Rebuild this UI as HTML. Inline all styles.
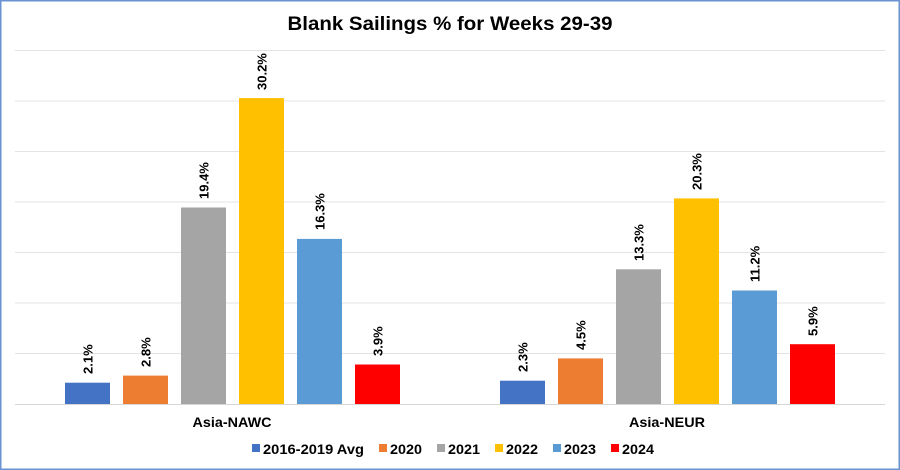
<!DOCTYPE html>
<html><head><meta charset="utf-8"><style>
html,body{margin:0;padding:0;background:#fff;}
svg{display:block;font-family:"Liberation Sans",Arial,sans-serif;}
</style></head><body>
<svg width="900" height="470" viewBox="0 0 900 470" xmlns="http://www.w3.org/2000/svg">
<rect x="0.75" y="0.75" width="898.5" height="468.5" fill="#fff" stroke="#6a93d4" stroke-width="1.5"/>
<text x="450" y="30" text-anchor="middle" font-size="19" font-weight="bold" textLength="325" lengthAdjust="spacingAndGlyphs">Blank Sailings % for Weeks 29-39</text>
<g stroke="#e3e3e3" stroke-width="1">
<line x1="15" x2="885" y1="50.5" y2="50.5"/>
<line x1="15" x2="885" y1="101" y2="101"/>
<line x1="15" x2="885" y1="151.5" y2="151.5"/>
<line x1="15" x2="885" y1="202" y2="202"/>
<line x1="15" x2="885" y1="252.5" y2="252.5"/>
<line x1="15" x2="885" y1="303" y2="303"/>
<line x1="15" x2="885" y1="353.5" y2="353.5"/>
</g>
<line x1="15" x2="885" y1="404.5" y2="404.5" stroke="#d6d6d6" stroke-width="1"/>
<g>
<rect x="65" y="382.7" width="45" height="21.3" fill="#4472c4"/>
<rect x="123" y="375.6" width="45" height="28.4" fill="#ed7d31"/>
<rect x="181" y="207.5" width="45" height="196.5" fill="#a5a5a5"/>
<rect x="239" y="98.1" width="45" height="305.9" fill="#ffc000"/>
<rect x="297" y="238.9" width="45" height="165.1" fill="#5b9bd5"/>
<rect x="355" y="364.5" width="45" height="39.5" fill="#ff0000"/>
<rect x="500" y="380.7" width="45" height="23.3" fill="#4472c4"/>
<rect x="558" y="358.4" width="45" height="45.6" fill="#ed7d31"/>
<rect x="616" y="269.3" width="45" height="134.7" fill="#a5a5a5"/>
<rect x="674" y="198.4" width="45" height="205.6" fill="#ffc000"/>
<rect x="732" y="290.5" width="45" height="113.5" fill="#5b9bd5"/>
<rect x="790" y="344.2" width="45" height="59.8" fill="#ff0000"/>
</g>
<g font-size="13" font-weight="bold" fill="#000">
<text transform="translate(92.5,374) rotate(-90)">2.1%</text>
<text transform="translate(150.5,367) rotate(-90)">2.8%</text>
<text transform="translate(208.5,199) rotate(-90)">19.4%</text>
<text transform="translate(266.5,90) rotate(-90)">30.2%</text>
<text transform="translate(324.5,230) rotate(-90)">16.3%</text>
<text transform="translate(382.5,356) rotate(-90)">3.9%</text>
<text transform="translate(527.5,372) rotate(-90)">2.3%</text>
<text transform="translate(585.5,350) rotate(-90)">4.5%</text>
<text transform="translate(643.5,261) rotate(-90)">13.3%</text>
<text transform="translate(701.5,190) rotate(-90)">20.3%</text>
<text transform="translate(759.5,282) rotate(-90)">11.2%</text>
<text transform="translate(817.5,336) rotate(-90)">5.9%</text>
</g>
<g font-size="14" font-weight="bold" text-anchor="middle">
<text x="232" y="427" textLength="79" lengthAdjust="spacingAndGlyphs">Asia-NAWC</text>
<text x="667" y="427" textLength="76" lengthAdjust="spacingAndGlyphs">Asia-NEUR</text>
</g>
<g font-size="14" font-weight="bold">
<rect x="252" y="444" width="8" height="8" fill="#4472c4"/><text x="263" y="454" textLength="101" lengthAdjust="spacingAndGlyphs">2016-2019 Avg</text>
<rect x="379" y="444" width="8" height="8" fill="#ed7d31"/><text x="390" y="454" textLength="32" lengthAdjust="spacingAndGlyphs">2020</text>
<rect x="437" y="444" width="8" height="8" fill="#a5a5a5"/><text x="448" y="454" textLength="32" lengthAdjust="spacingAndGlyphs">2021</text>
<rect x="495" y="444" width="8" height="8" fill="#ffc000"/><text x="506" y="454" textLength="32" lengthAdjust="spacingAndGlyphs">2022</text>
<rect x="553" y="444" width="8" height="8" fill="#5b9bd5"/><text x="564" y="454" textLength="32" lengthAdjust="spacingAndGlyphs">2023</text>
<rect x="611" y="444" width="8" height="8" fill="#ff0000"/><text x="622" y="454" textLength="32" lengthAdjust="spacingAndGlyphs">2024</text>
</g>
</svg>
</body></html>
